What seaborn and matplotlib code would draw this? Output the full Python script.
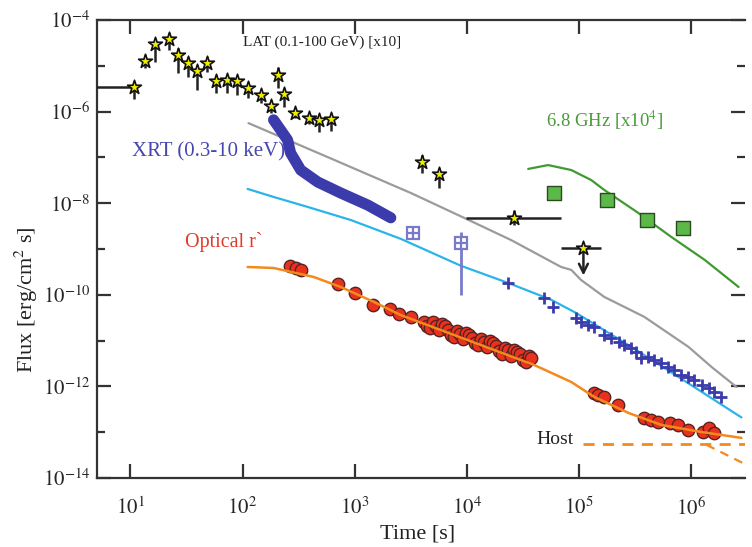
import numpy as np
import pandas as pd
import matplotlib
matplotlib.use("Agg")
import matplotlib.pyplot as plt
import matplotlib.ticker as mticker
import seaborn as sns

# ---------------- data ----------------
# LAT (0.1-100 GeV) [x10]
lat_t = [10.8, 13.6, 16.7, 22.3, 26.8, 32.9, 39.6, 48.6, 58.5, 73.3, 89.9, 112, 147, 178,
         209, 232, 296, 395, 485, 620, 3980, 5620]
lat_f = [3.5e-6, 1.27e-5, 3.0e-5, 3.8e-5, 1.7e-5, 1.15e-5, 7.7e-6, 1.15e-5, 4.7e-6, 4.9e-6,
         4.7e-6, 3.3e-6, 2.3e-6, 1.3e-6, 6.3e-6, 2.4e-6, 9.3e-7, 7.3e-7, 6.6e-7, 6.9e-7,
         7.9e-8, 4.4e-8]
lat_lo = [1.84e-6, 9.0e-6, 1.22e-5, 2.2e-5, 6.9e-6, 5.7e-6, 3.0e-6, 7.3e-6, 2.6e-6, 2.6e-6,
          2.3e-6, 2.0e-6, 1.55e-6, 9.2e-7, 3.3e-6, 1.26e-6, 7.2e-7, 5.4e-7, 3.6e-7, 3.8e-7,
          4.5e-8, 2.2e-8]
lat_hi = [4.5e-6, 1.72e-5, 3.7e-5, 5.1e-5, 2.4e-5, 1.55e-5, 1.04e-5, 1.55e-5, 6.3e-6, 6.2e-6,
          6.0e-6, 4.2e-6, 3.1e-6, 1.75e-6, 9.3e-6, 3.2e-6, 1.2e-6, 9.4e-7, 8.5e-7, 8.9e-7,
          1.12e-7, 5.9e-8]
lat_first_tmin = 4.0
# long-bin LAT point
latb_t, latb_f = 2.63e4, 4.8e-9
latb_tmin, latb_tmax = 9.8e3, 6.9e4
latb_flo, latb_fhi = 3.3e-9, 7.1e-9
# LAT upper limit
latul_t, latul_f = 1.09e5, 1.05e-9
latul_tmin, latul_tmax = 6.9e4, 1.57e5
latul_arrow_end = 2.3e-10

# LAT model (gray)
gray_t = [113, 611, 3162, 9400, 24700, 69000, 84900, 104000, 167000, 380000, 940000, 1.51e6, 2.52e6]
gray_f = [5.6e-7, 9.5e-8, 1.67e-8, 4.8e-9, 1.57e-9, 4.05e-10, 3.5e-10, 2.1e-10, 9.0e-11, 3.3e-11,
          7.3e-12, 2.66e-12, 9.7e-13]

# XRT (0.3-10 keV) early dense band
xrt_band_t = [189, 218, 252, 268, 330, 468, 750, 1306, 2094]
xrt_band_f = [6.6e-7, 4.0e-7, 2.4e-7, 1.25e-7, 5.3e-8, 2.9e-8, 1.67e-8, 9.1e-9, 4.8e-9]
# XRT boxed points
xrt_box_t = [3296, 8830]
xrt_box_f = [2.24e-9, 1.36e-9]
xrt_box_lo = [2.24e-9, 1.0e-10]
xrt_box_hi = [2.24e-9, 2.3e-9]
# XRT late points
xrt_late_t = [2.32e4, 4.88e4, 5.86e4, 9.4e4, 1.04e5, 1.20e5, 1.36e5, 1.67e5, 1.93e5, 2.28e5,
              2.52e5, 2.91e5, 3.23e5, 3.58e5, 4.13e5, 4.68e5, 5.40e5, 6.24e5, 7.05e5, 8.15e5,
              9.4e5, 1.06e6, 1.23e6, 1.42e6, 1.60e6, 1.85e6]
xrt_late_f = [1.82e-10, 8.5e-11, 5.4e-11, 3.1e-11, 2.55e-11, 2.2e-11, 1.99e-11, 1.33e-11, 1.14e-11,
              9.4e-12, 8.0e-12, 6.9e-12, 5.7e-12, 4.2e-12, 4.4e-12, 3.8e-12, 3.25e-12, 2.66e-12,
              2.29e-12, 1.78e-12, 1.61e-12, 1.38e-12, 1.08e-12, 9.3e-13, 7.6e-13, 5.9e-13]
# XRT model (cyan)
cyan_t = [111, 189, 380, 920, 2580, 8830, 23200, 56200, 94000, 274000, 766000, 2.79e6]
cyan_f = [2.05e-8, 1.37e-8, 8.3e-9, 4.3e-9, 1.66e-9, 4.3e-10, 1.82e-10, 7.8e-11, 4.0e-11,
          8.0e-12, 1.61e-12, 2.1e-13]

# Optical r'
opt_t = [263, 300, 330, 705, 1000, 1449, 2056, 2472, 3162,
         4130, 4400, 4680, 4970, 5280, 5620, 5980, 6370, 6760, 7200, 7660, 8150, 8670, 9210,
         9800, 10400, 11100, 11800, 12530, 13300, 14200, 15100, 16000, 17100, 18200, 19300,
         20500, 21800, 23200, 24700, 26300, 27900, 29700, 31600, 33600, 35800, 37200,
         1.36e5, 1.48e5, 1.67e5, 2.23e5, 3.8e5, 4.4e5, 5.07e5, 6.4e5, 7.66e5, 9.4e5,
         1.28e6, 1.42e6, 1.60e6]
opt_f = [4.3e-10, 3.9e-10, 3.5e-10, 1.73e-10, 1.1e-10, 6.0e-11, 4.9e-11, 3.8e-11, 3.3e-11,
         2.55e-11, 2.09e-11, 1.89e-11, 2.55e-11, 2.09e-11, 1.71e-11, 2.31e-11, 2.04e-11, 1.71e-11,
         1.35e-11, 1.2e-11, 1.65e-11, 1.40e-11, 1.10e-11, 1.47e-11, 1.33e-11, 1.14e-11, 8.9e-12,
         8.0e-12, 1.09e-11, 9.4e-12, 7.1e-12, 9.8e-12, 8.7e-12, 7.6e-12, 5.8e-12, 5.1e-12, 7.0e-12,
         6.3e-12, 4.65e-12, 6.3e-12, 5.65e-12, 5.1e-12, 3.77e-12, 3.4e-12, 4.56e-12, 4.2e-12,
         7.2e-13, 6.5e-13, 5.9e-13, 3.9e-13, 2.05e-13, 1.85e-13, 1.67e-13, 1.6e-13, 1.44e-13,
         1.12e-13, 1.01e-13, 1.24e-13, 9.6e-14]
# Optical model (orange)
orange_t = [111, 189, 431, 750, 1479, 2576, 39600, 84900, 1.36e5, 2.74e5, 5.4e5, 1.23e6, 2.79e6]
orange_f = [4.05e-10, 3.85e-10, 2.45e-10, 1.48e-10, 7.0e-11, 3.6e-11, 2.94e-12, 1.25e-12,
            5.9e-13, 2.64e-13, 1.44e-13, 1.01e-13, 7.5e-14]
host_t = [1.09e5, 3.5e6]
host_f = [5.5e-14, 5.5e-14]
afterglow_t = [1.36e6, 3.1e6]
afterglow_f = [5.3e-14, 1.93e-14]

# 6.8 GHz [x10^4]
radio_line_t = [35100, 52800, 84900, 128000, 167000, 337000, 662000, 1.31e6, 2.63e6]
radio_line_f = [5.6e-8, 6.8e-8, 5.3e-8, 3.2e-8, 1.95e-8, 6.1e-9, 1.83e-9, 5.8e-10, 1.48e-10]
radio_t = [59800, 178000, 405000, 849000]
radio_f = [1.67e-8, 1.17e-8, 4.3e-9, 2.9e-9]

x_ticks = [1e1, 1e2, 1e3, 1e4, 1e5, 1e6]
x_ticklabels = ["$10^{1}$", "$10^{2}$", "$10^{3}$", "$10^{4}$", "$10^{5}$", "$10^{6}$"]
y_ticks = [1e-4, 1e-6, 1e-8, 1e-10, 1e-12, 1e-14]
y_ticklabels = ["$10^{-4}$", "$10^{-6}$", "$10^{-8}$", "$10^{-10}$", "$10^{-12}$", "$10^{-14}$"]
y_minor = [1e-5, 1e-7, 1e-9, 1e-11, 1e-13]

# ---------------- style ----------------
sns.set_style("ticks")
plt.rcParams["font.family"] = ["Liberation Serif", "DejaVu Serif"]
plt.rcParams["mathtext.fontset"] = "stix"

fig = plt.figure(figsize=(7.52, 5.47), dpi=100)
ax = fig.add_axes([97 / 752, 1 - 478 / 547, (745 - 97) / 752, (478 - 20) / 547])
ax.set_xscale("log")
ax.set_yscale("log")

C_GRAY = "#9b9b9b"
C_XRT = "#3b3bab"
C_BOX = "#7a7acb"
C_CYAN = "#2ab5ea"
C_RED = "#e8321e"
C_ORANGE = "#f28a1e"
C_GREEN = "#3f9a2f"
C_GSQ = "#5db84a"
C_YEL = "#eeee00"

# models
sns.lineplot(x=gray_t, y=gray_f, ax=ax, color=C_GRAY, lw=1.6, estimator=None, sort=False)
sns.lineplot(x=cyan_t, y=cyan_f, ax=ax, color=C_CYAN, lw=1.6, estimator=None, sort=False)
sns.lineplot(x=radio_line_t, y=radio_line_f, ax=ax, color=C_GREEN, lw=1.6, estimator=None, sort=False)
sns.lineplot(x=host_t, y=host_f, ax=ax, color=C_ORANGE, lw=2.0, ls=(0, (4, 3)), estimator=None, sort=False)
sns.lineplot(x=afterglow_t, y=afterglow_f, ax=ax, color=C_ORANGE, lw=1.6, ls=(0, (4, 3)), estimator=None, sort=False)

# XRT early band
ax.plot(xrt_band_t, xrt_band_f, color=C_XRT, lw=8, solid_capstyle="round", solid_joinstyle="round", zorder=3)
# XRT late crosses
ax.plot(xrt_late_t, xrt_late_f, ls="none", marker="+", ms=8, mew=2.0, color=C_XRT, zorder=3)
# XRT boxed points
box_err = [np.array(xrt_box_f) - np.array(xrt_box_lo), np.array(xrt_box_hi) - np.array(xrt_box_f)]
ax.errorbar(xrt_box_t, xrt_box_f, yerr=box_err, fmt="none", ecolor=C_BOX, elinewidth=2, zorder=3)
ax.plot(xrt_box_t, xrt_box_f, ls="none", marker="s", ms=8, mfc="white", mec=C_BOX, mew=1.6, zorder=4)
ax.plot(xrt_box_t, xrt_box_f, ls="none", marker="+", ms=8, mew=1.6, color=C_BOX, zorder=5)

# optical
sns.scatterplot(x=opt_t, y=opt_f, ax=ax, color=C_RED, s=80, edgecolor="#5a2222", linewidth=1.0, zorder=4)
sns.lineplot(x=orange_t, y=orange_f, ax=ax, color=C_ORANGE, lw=1.8, estimator=None, sort=False, zorder=5)

# radio squares
sns.scatterplot(x=radio_t, y=radio_f, ax=ax, marker="s", color=C_GSQ, s=110, edgecolor="#2a4a22", linewidth=1.0, zorder=4)

# LAT
lat_err = [np.array(lat_f) - np.array(lat_lo), np.array(lat_hi) - np.array(lat_f)]
ax.errorbar(lat_t, lat_f, yerr=lat_err, fmt="none", ecolor="#222222", elinewidth=1.8, zorder=5)
ax.errorbar([lat_t[0]], [lat_f[0]], xerr=[[lat_t[0] - lat_first_tmin], [0]], fmt="none",
            ecolor="#222222", elinewidth=1.8, zorder=5)
ax.errorbar([latb_t], [latb_f], xerr=[[latb_t - latb_tmin], [latb_tmax - latb_t]],
            yerr=[[latb_f - latb_flo], [latb_fhi - latb_f]], fmt="none", ecolor="#222222",
            elinewidth=1.8, zorder=5)
ax.errorbar([latul_t], [latul_f], xerr=[[latul_t - latul_tmin], [latul_tmax - latul_t]],
            fmt="none", ecolor="#222222", elinewidth=1.8, zorder=5)
ax.annotate("", xy=(latul_t, latul_arrow_end), xytext=(latul_t, latul_f),
            arrowprops=dict(arrowstyle="->", color="#222222", lw=1.8, mutation_scale=16), zorder=5)
star_t = lat_t + [latb_t, latul_t]
star_f = lat_f + [latb_f, latul_f]
sns.scatterplot(x=star_t, y=star_f, ax=ax, marker="*", color=C_YEL, s=110, edgecolor="#111111",
                linewidth=1.2, zorder=6)

# ---------------- axes ----------------
ax.set_xlim(5.05, 3.0e6)
ax.set_ylim(1e-14, 1e-4)
ax.xaxis.set_major_locator(mticker.FixedLocator(x_ticks))
ax.xaxis.set_major_formatter(mticker.FixedFormatter(x_ticklabels))
ax.xaxis.set_minor_locator(mticker.NullLocator())
ax.yaxis.set_major_locator(mticker.FixedLocator(y_ticks))
ax.yaxis.set_major_formatter(mticker.FixedFormatter(y_ticklabels))
ax.yaxis.set_minor_locator(mticker.FixedLocator(y_minor))
ax.yaxis.set_minor_formatter(mticker.NullFormatter())
ax.tick_params(which="both", direction="in", top=True, right=True, width=1.6, color="#333333",
               labelsize=15)
ax.tick_params(axis="x", which="major", pad=14)
ax.tick_params(axis="y", which="major", pad=5)
ax.tick_params(which="major", length=10)
ax.tick_params(which="minor", length=6)
for s in ["left", "bottom", "top"]:
    ax.spines[s].set_linewidth(1.6)
    ax.spines[s].set_color("#333333")
ax.spines["right"].set_visible(False)

ax.set_xlabel("Time [s]", fontsize=16, color="#222222", va="top")
ax.set_ylabel("Flux [erg/cm$^{2}$ s]", fontsize=16, color="#222222")
ax.xaxis.set_label_coords((418 - 97) / (745 - 97), -(525 - 478) / (478 - 20))
ax.yaxis.set_label_coords(-(97 - 40) / (745 - 97), (478 - 300) / (478 - 20))

# annotations
ax.text(102, 3.3e-5, "LAT (0.1-100 GeV) [x10]", fontsize=11, color="#222222", ha="left", va="center")
ax.text(10.4, 1.3e-7, "XRT (0.3-10 keV)", fontsize=15, color="#4646b0", ha="left", va="center")
ax.text(50700, 6.6e-7, "6.8 GHz [x10$^{4}$]", fontsize=13.5, color="#4a9a3a", ha="left", va="center")
ax.text(31, 1.4e-9, "Optical r`", fontsize=14.5, color="#e03a2a", ha="left", va="center")
ax.text(41300, 6.8e-14, "Host", fontsize=14, color="#222222", ha="left", va="center")

fig.savefig("out.png", dpi=100)
